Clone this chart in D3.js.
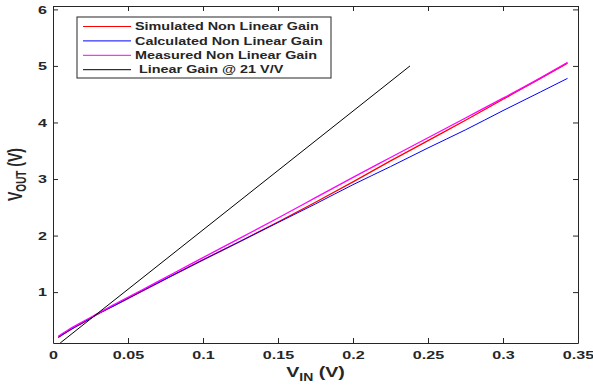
<!DOCTYPE html>
<html lang="en">
<head>
<meta charset="utf-8" />
<script src="https://cdnjs.cloudflare.com/ajax/libs/d3/7.8.5/d3.min.js"></script>
<style>
  body { margin: 0; background: #fff; }
  text { font-family: "Liberation Sans", Arial, sans-serif; font-weight: bold; fill: #262626; }
</style>
</head>
<body>
<div id="chart"></div>
<script>
// Vin sample points (V)
var vin = [0.0035, 0.01, 0.02, 0.029, 0.04, 0.058, 0.08, 0.1, 0.125, 0.15, 0.175, 0.2, 0.225, 0.25, 0.275, 0.3, 0.325, 0.343];
var simulated  = [0.20, 0.31, 0.46, 0.60, 0.75, 1.00, 1.30, 1.57, 1.90, 2.24, 2.59, 2.95, 3.32, 3.68, 4.04, 4.41, 4.78, 5.05];
var calculated = [0.20, 0.31, 0.46, 0.60, 0.75, 1.00, 1.30, 1.57, 1.90, 2.23, 2.56, 2.90, 3.22, 3.55, 3.87, 4.21, 4.54, 4.78];
var measured   = [0.22, 0.33, 0.48, 0.61, 0.77, 1.02, 1.33, 1.61, 1.96, 2.31, 2.67, 3.03, 3.38, 3.73, 4.08, 4.43, 4.79, 5.06];
// linear gain @ 21 V/V
var linVin = [0.0048, 0.238];
var linVout = [0.1, 5.0];

var xTicks = [0, 0.05, 0.1, 0.15, 0.2, 0.25, 0.3, 0.35];
var yTicks = [1, 2, 3, 4, 5, 6];

var series = [
  { name: "Simulated Non Linear Gain", x: vin, y: simulated, color: "#ff0000", w: 1.3 },
  { name: "Calculated Non Linear Gain", x: vin, y: calculated, color: "#0000ff", w: 1 },
  { name: "Measured Non Linear Gain", x: vin, y: measured, color: "#ff00ff", w: 1.3 },
  { name: " Linear Gain @ 21 V/V", x: linVin, y: linVout, color: "#000000", w: 1 }
];

var width = 593, height = 385;
var margin = { left: 53, right: 15, top: 6, bottom: 42 };
var SX = 1.4; // the picture's text is stretched sideways

var svg = d3.select("#chart").append("svg")
  .attr("width", width).attr("height", height);

var x = d3.scaleLinear().domain([0, 0.35]).range([margin.left, width - margin.right]);
var y = d3.scaleLinear().domain([0.1, 6.06]).range([height - margin.bottom, margin.top]);

svg.append("defs").append("clipPath").attr("id", "plotclip")
  .append("rect")
  .attr("x", x.range()[0]).attr("y", y.range()[1])
  .attr("width", x.range()[1] - x.range()[0])
  .attr("height", y.range()[0] - y.range()[1]);

// lines
var line = d3.line()
  .x(function (d) { return x(d[0]); })
  .y(function (d) { return y(d[1]); })
  .curve(d3.curveMonotoneX);

var plot = svg.append("g").attr("clip-path", "url(#plotclip)");
series.forEach(function (s) {
  plot.append("path")
    .datum(d3.zip(s.x, s.y))
    .attr("fill", "none")
    .attr("stroke", s.color)
    .attr("stroke-width", s.w)
    .attr("d", line);
});

// axes, ticks point inward
function styleAxis(g) {
  g.selectAll("path, line").attr("stroke", "#262626");
  g.selectAll("text").attr("fill", "#262626").attr("font-size", 11.5)
    .style("font-family", "'Liberation Sans', Arial, sans-serif").style("font-weight", "bold");
}

var xAxis = svg.append("g")
  .attr("transform", "translate(0," + y.range()[0] + ")")
  .call(d3.axisBottom(x).tickValues(xTicks).tickFormat(d3.format("~g")).tickSize(-5).tickSizeOuter(0).tickPadding(8));
styleAxis(xAxis);
xAxis.selectAll("text").attr("transform", "scale(" + SX + ",1)");

var yAxis = svg.append("g")
  .attr("transform", "translate(" + x.range()[0] + ",0)")
  .call(d3.axisLeft(y).tickValues(yTicks).tickFormat(d3.format("~g")).tickSize(-5).tickSizeOuter(0).tickPadding(4.3));
styleAxis(yAxis);
yAxis.selectAll("text").attr("transform", "scale(" + SX + ",1)");

var xTop = svg.append("g")
  .attr("transform", "translate(0," + y.range()[1] + ")")
  .call(d3.axisTop(x).tickValues(xTicks).tickFormat("").tickSize(-5).tickSizeOuter(0));
styleAxis(xTop);

var yRight = svg.append("g")
  .attr("transform", "translate(" + x.range()[1] + ",0)")
  .call(d3.axisRight(y).tickValues(yTicks).tickFormat("").tickSize(-5).tickSizeOuter(0));
styleAxis(yRight);

// axis labels
var xl = svg.append("text")
  .attr("transform", "translate(" + ((x.range()[0] + x.range()[1]) / 2) + ",377) scale(" + SX + ",1)")
  .attr("text-anchor", "middle")
  .attr("font-size", 14);
xl.append("tspan").text("V");
xl.append("tspan").attr("font-size", 10).attr("dy", 4).text("IN");
xl.append("tspan").attr("dy", -4).text(" (V)");

var yl = svg.append("text")
  .attr("transform", "translate(22," + ((y.range()[0] + y.range()[1]) / 2) + ") scale(" + SX + ",1) rotate(-90)")
  .attr("text-anchor", "middle")
  .attr("font-size", 14);
yl.append("tspan").text("V");
yl.append("tspan").attr("font-size", 10).attr("dy", 3).text("OUT");
yl.append("tspan").attr("dy", -3).text(" (V)");

// legend
var legend = svg.append("g").attr("transform", "translate(77,17)");
legend.append("rect")
  .attr("width", 254).attr("height", 61)
  .attr("fill", "#fff").attr("stroke", "#262626").attr("stroke-width", 1);

series.forEach(function (s, i) {
  var ly = 9.5 + i * 14.4;
  legend.append("line")
    .attr("x1", 6).attr("x2", 54).attr("y1", ly).attr("y2", ly)
    .attr("stroke", s.color).attr("stroke-width", 1);
  legend.append("text")
    .attr("transform", "translate(58," + (ly + 3.6) + ") scale(1.44,1)")
    .attr("font-size", 10)
    .style("white-space", "pre")
    .text(s.name);
});
</script>
</body>
</html>
